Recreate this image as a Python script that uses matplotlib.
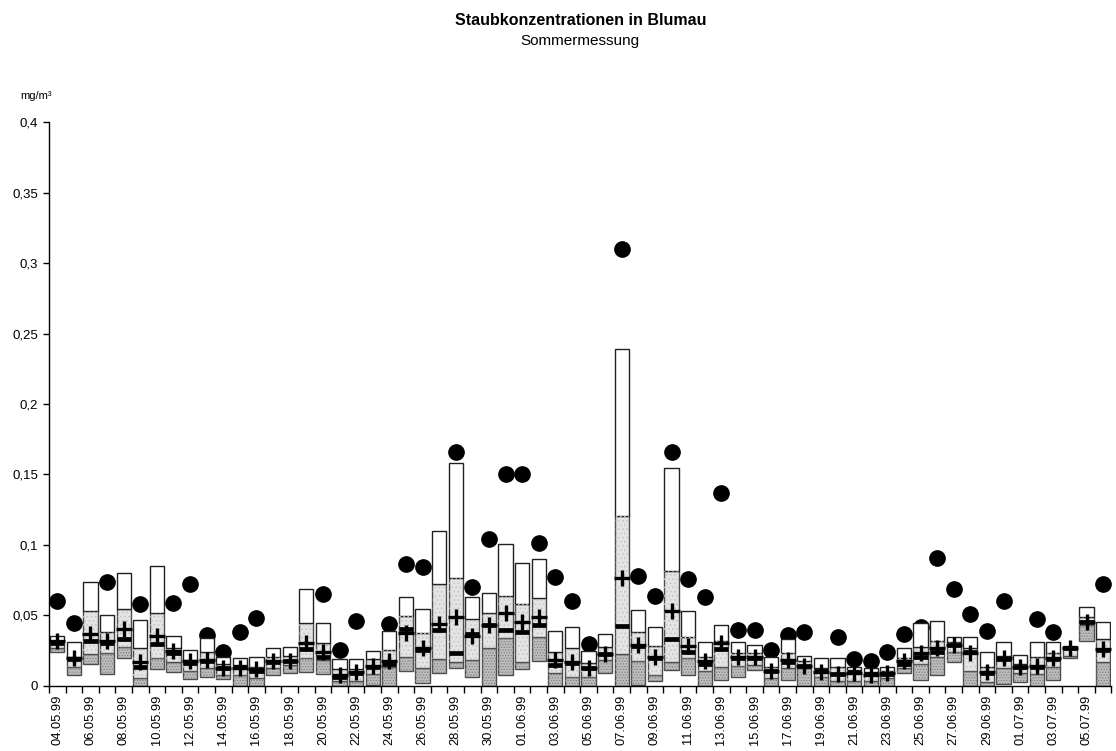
import numpy as np
import matplotlib
matplotlib.use("Agg")
import matplotlib.pyplot as plt

plt.rcParams["font.family"] = ["Liberation Sans", "DejaVu Sans"]
plt.rcParams["hatch.linewidth"] = 0.6

days = (["%02d.05.99" % d for d in range(4, 32)]
        + ["%02d.06.99" % d for d in range(1, 31)]
        + ["%02d.07.99" % d for d in range(1, 7)])

box_low = [0.024, 0.0076, 0.0154, 0.0085, 0.0196, 0.0, 0.0118, 0.0097, 0.0047, 0.0061,
           0.0047, 0.0, 0.0, 0.0078, 0.0094, 0.0097, 0.0085, 0.0, 0.0, 0.0007,
           0.0, 0.0106, 0.0019, 0.009, 0.0125, 0.0061, 0.0, 0.0078, 0.0118, 0.0177,
           0.0, 0.0, 0.0, 0.009, 0.0, 0.001, 0.0035, 0.0111, 0.0078, 0.0,
           0.004, 0.0061, 0.0111, 0.0, 0.004, 0.0, 0.0, 0.0, 0.0, 0.0,
           0.0, 0.0094, 0.004, 0.0078, 0.0168, 0.0, 0.0, 0.0017, 0.0031, 0.0,
           0.004, 0.0196, 0.0321, 0.0]
dark_top = [0.0268, 0.0133, 0.0225, 0.0232, 0.0279, 0.006, 0.0196, 0.0168, 0.0109, 0.0125,
            0.0078, 0.0078, 0.0054, 0.0125, 0.0151, 0.0196, 0.0187, 0.0035, 0.0038, 0.0085,
            0.0132, 0.0203, 0.0125, 0.0189, 0.0173, 0.0182, 0.0272, 0.0338, 0.0168, 0.0345,
            0.009, 0.0066, 0.0066, 0.0184, 0.0227, 0.0177, 0.0078, 0.0168, 0.0196, 0.0109,
            0.0137, 0.0144, 0.0149, 0.0054, 0.0125, 0.0125, 0.0066, 0.0035, 0.0035, 0.0038,
            0.0054, 0.0125, 0.0154, 0.0203, 0.0243, 0.0109, 0.0028, 0.0125, 0.009, 0.0085,
            0.0132, 0.0213, 0.043, 0.0168]
light_top = [0.032, 0.0208, 0.0532, 0.0385, 0.0548, 0.0267, 0.052, 0.0267, 0.0184, 0.0243,
             0.0156, 0.0149, 0.0137, 0.0208, 0.0213, 0.0444, 0.0303, 0.0121, 0.0121, 0.0189,
             0.0255, 0.0496, 0.0374, 0.0721, 0.0768, 0.0473, 0.052, 0.064, 0.058, 0.0622,
             0.0243, 0.0267, 0.0165, 0.0279, 0.1208, 0.038, 0.0286, 0.0818, 0.035, 0.0208,
             0.0321, 0.0232, 0.0232, 0.0137, 0.0232, 0.018, 0.0125, 0.0132, 0.011, 0.0097,
             0.0109, 0.0196, 0.0279, 0.0321, 0.031, 0.0267, 0.0137, 0.0213, 0.0158, 0.0203,
             0.0232, 0.027, 0.0492, 0.0333]
box_high = [0.0357, 0.031, 0.074, 0.0504, 0.080, 0.0468, 0.0851, 0.0357, 0.0255, 0.034,
            0.0203, 0.0196, 0.0203, 0.0267, 0.0279, 0.0686, 0.0444, 0.0189, 0.0189, 0.0248,
            0.039, 0.0629, 0.0544, 0.1099, 0.158, 0.0634, 0.0657, 0.1005, 0.0875, 0.0898,
            0.0392, 0.042, 0.025, 0.0369, 0.239, 0.0539, 0.042, 0.1544, 0.0532, 0.0314,
            0.0433, 0.0314, 0.0291, 0.0203, 0.0331, 0.0215, 0.0196, 0.0196, 0.0132, 0.0125,
            0.0137, 0.0267, 0.0444, 0.0463, 0.0345, 0.0345, 0.0243, 0.031, 0.0222, 0.031,
            0.031, 0.0284, 0.0558, 0.0456]
median = [0.0302, 0.019, 0.0321, 0.0307, 0.0331, 0.0137, 0.0298, 0.0236, 0.0165, 0.018,
          0.0125, 0.0132, 0.0109, 0.0173, 0.018, 0.0265, 0.0203, 0.0066, 0.009, 0.0132,
          0.0156, 0.0407, 0.0255, 0.0397, 0.0232, 0.0369, 0.0433, 0.0397, 0.0385, 0.0435,
          0.0149, 0.0165, 0.0125, 0.0227, 0.0426, 0.0284, 0.0196, 0.0333, 0.0239, 0.0158,
          0.026, 0.0196, 0.0196, 0.0109, 0.0173, 0.0144, 0.0109, 0.0085, 0.0101, 0.0085,
          0.0085, 0.0158, 0.0203, 0.0239, 0.0291, 0.0243, 0.009, 0.0189, 0.0132, 0.0132,
          0.0189, 0.0267, 0.0452, 0.0255]
mean = [0.0318, 0.020, 0.0366, 0.0318, 0.0404, 0.0173, 0.0355, 0.0248, 0.018, 0.0187,
        0.013, 0.0125, 0.012, 0.018, 0.018, 0.0307, 0.0243, 0.0078, 0.0101, 0.014,
        0.018, 0.0374, 0.0267, 0.044, 0.0492, 0.0355, 0.0433, 0.0515, 0.0456, 0.0487,
        0.0184, 0.017, 0.0125, 0.0227, 0.0768, 0.029, 0.0203, 0.0534, 0.028, 0.0175,
        0.0303, 0.0203, 0.0203, 0.0109, 0.0182, 0.0144, 0.0101, 0.0085, 0.009, 0.0078,
        0.009, 0.018, 0.0232, 0.027, 0.0291, 0.0232, 0.0097, 0.0196, 0.0132, 0.014,
        0.0196, 0.0267, 0.0456, 0.026]
peak = [0.06, 0.045, None, 0.074, None, 0.058, None, 0.0586, 0.072, 0.036,
        0.024, 0.0385, 0.048, None, None, None, 0.0652, 0.0255, 0.0461, None,
        0.044, 0.0863, 0.0844, None, 0.1657, 0.0702, 0.1043, 0.150, 0.150, 0.1012,
        0.077, 0.0603, 0.0296, None, 0.31, 0.078, 0.0638, 0.166, 0.0759, 0.0629,
        0.1366, 0.0397, 0.0397, 0.0255, 0.0362, 0.038, None, 0.035, 0.0189, 0.018,
        0.0239, 0.0369, 0.042, 0.091, 0.0688, 0.051, 0.039, 0.0603, None, 0.0473,
        0.038, None, None, 0.0721]

x = np.arange(len(days))
lo = np.array(box_low)
d_top = np.array(dark_top)
l_top = np.array(light_top)
hi = np.array(box_high)
pk = np.array([np.nan if v is None else v for v in peak])
w = 0.86

fig = plt.figure(figsize=(11.16, 7.51), dpi=100)
ax = fig.add_axes([0.0439, 0.0866, 0.952, 0.7509])

# max values (drawn below the boxes)
ax.plot(x, pk, "o", color="black", ms=11, zorder=1, linestyle="none")

edge = "#4d4d4d"
ax.bar(x, d_top - lo, bottom=lo, width=w, color="#bdbdbd", edgecolor=edge, linewidth=1, zorder=2)
ax.bar(x, d_top - lo, bottom=lo, width=w, fill=False, edgecolor="#808080", hatch="......",
       linewidth=0, zorder=2.1)
ax.bar(x, l_top - d_top, bottom=d_top, width=w, color="#e4e4e4", edgecolor=edge, linewidth=1, zorder=2)
ax.bar(x, l_top - d_top, bottom=d_top, width=w, fill=False, edgecolor="#c4c4c4", hatch="....",
       linewidth=0, zorder=2.1)
ax.bar(x, hi - l_top, bottom=l_top, width=w, color="white", edgecolor="#202020", linewidth=1, zorder=2)

ax.hlines(median, x - w / 2, x + w / 2, colors="black", linewidth=3.4, zorder=3)
ax.plot(x, mean, "+", color="black", ms=11, mew=2.4, zorder=4, linestyle="none")

ax.set_xlim(-0.5, len(days) - 0.5)
ax.set_ylim(0, 0.4)
ax.set_yticks(np.arange(0, 0.401, 0.05))
ax.set_yticklabels(["0", "0,05", "0,1", "0,15", "0,2", "0,25", "0,3", "0,35", "0,4"], fontsize=9.5)
ax.tick_params(axis="y", direction="out", length=4, width=1, pad=4)

ax.set_xticks(x[::2])
ax.set_xticklabels(days[::2], rotation=90, fontsize=9.3)
ax.set_xticks(np.arange(-0.5, len(days), 1), minor=True)
ax.tick_params(axis="x", which="major", length=0, pad=6)
ax.tick_params(axis="x", which="minor", direction="out", length=5, width=1)

for s in ["top", "right"]:
    ax.spines[s].set_visible(False)
for s in ["left", "bottom"]:
    ax.spines[s].set_linewidth(1)
    ax.spines[s].set_color("black")

fig.text(0.52, 0.973, "Staubkonzentrationen in Blumau", ha="center", va="center",
         fontsize=11.5, fontweight="bold")
fig.text(0.52, 0.945, "Sommermessung", ha="center", va="center", fontsize=11)
fig.text(0.032, 0.872, "mg/m³", ha="center", va="center", fontsize=8)

fig.savefig("out.png", dpi=100)
